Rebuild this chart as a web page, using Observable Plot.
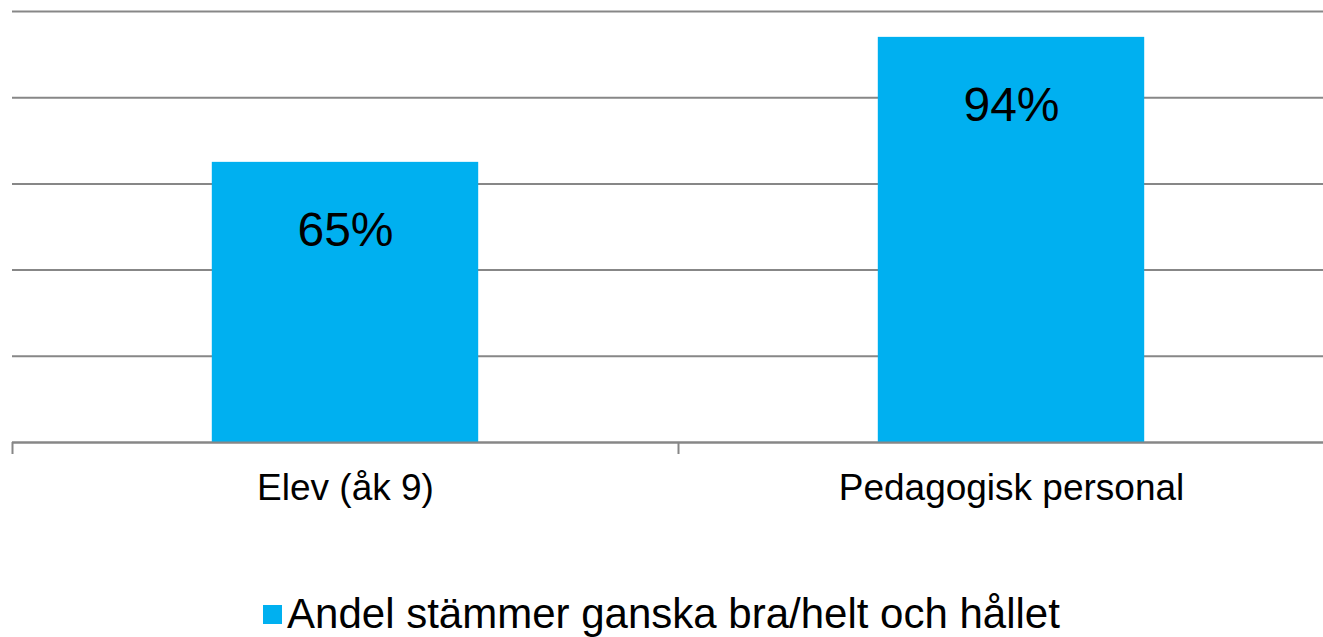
<!DOCTYPE html>
<html>
<head>
<meta charset="utf-8">
<script src="https://cdn.jsdelivr.net/npm/d3@7"></script>
<script src="https://cdn.jsdelivr.net/npm/@observablehq/plot@0.6"></script>
<style>
  html, body { margin: 0; padding: 0; background: white; overflow: hidden; }
  #chart svg { display: block; }
  #legend {
    width: 1323px; height: 97px; box-sizing: border-box; padding-top: 51px;
    display: flex; justify-content: center; align-items: center;
    font-family: "Liberation Sans", Arial, sans-serif; font-size: 42px; line-height: 42px;
    color: black;
  }
  #legend .sw { width: 19px; height: 19px; margin-right: 5px; flex: none; }
</style>
</head>
<body>
<div id="chart"></div>
<div id="legend"></div>
<script>
const categories = ["Elev (åk 9)", "Pedagogisk personal"];
const values = [65, 94];
const valueLabels = ["65%", "94%"];
const gridTicks = [0, 20, 40, 60, 80, 100];
const seriesName = "Andel stämmer ganska bra/helt och hållet";
const barColor = "#00B0F0";

const rows = categories.map((c, i) => ({category: c, value: values[i], label: valueLabels[i]}));
const xRange = [12, 1344];
const step = (xRange[1] - xRange[0]) / categories.length;

const chart = Plot.plot({
  width: 1323,
  height: 540,
  marginTop: 11,
  marginBottom: 98,
  marginLeft: 12,
  marginRight: 0,
  style: {fontFamily: "'Liberation Sans', Arial, sans-serif", background: "white", color: "black"},
  x: {domain: categories, range: xRange, paddingInner: 0.6, paddingOuter: 0.3, round: false, label: null},
  y: {domain: [0, 100], axis: null},
  marks: [
    Plot.ruleY(gridTicks, {stroke: "#878787", strokeWidth: 2, strokeOpacity: 1}),
    Plot.barY(rows, {x: "category", y: "value", fill: barColor}),
    Plot.ruleY([0], {stroke: "#878787", strokeWidth: 2, strokeOpacity: 1}),
    Plot.ruleX(rows, {x: "category", dx: -step / 2, y1: 0, y2: 0, insetBottom: -12, stroke: "#878787", strokeWidth: 2, strokeOpacity: 1}),
    Plot.text(rows, {x: "category", y: "value", text: "label", dy: 68, fontSize: 48, fill: "black"}),
    Plot.axisX({tickSize: 0, tickPadding: 31, fontSize: 37, label: null})
  ]
});
document.getElementById("chart").appendChild(chart);

const legend = document.getElementById("legend");
const sw = document.createElement("span");
sw.className = "sw";
sw.style.background = barColor;
const lt = document.createElement("span");
lt.textContent = seriesName;
legend.appendChild(sw);
legend.appendChild(lt);
</script>
</body>
</html>
